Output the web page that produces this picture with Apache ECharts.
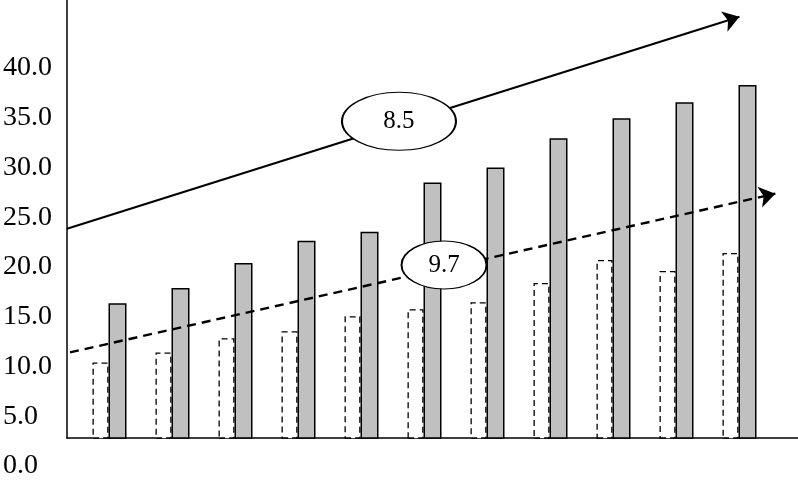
<!DOCTYPE html>
<html>
<head>
<meta charset="utf-8">
<script src="https://cdn.jsdelivr.net/npm/echarts@6/dist/echarts.min.js"></script>
<style>html,body{margin:0;padding:0;background:#fff}#c{width:798px;height:480px}</style>
</head>
<body>
<div id="c"></div>
<script>
// ---- data ----
var categories = ['1','2','3','4','5','6','7','8','9','10','11'];
var seriesA = [10.7, 11.7, 13.1, 13.8, 15.3, 16.0, 16.7, 18.6, 20.9, 19.8, 21.6]; // dashed outline bars
var seriesB = [16.6, 18.1, 20.6, 22.8, 23.7, 28.6, 30.1, 33.0, 35.0, 36.6, 38.3]; // grey bars
var yTicks = [0, 5, 10, 15, 20, 25, 30, 35, 40];
// trend arrows: [xIndexStart, yStart, xIndexEnd, yEnd]
var trendSolid = [-0.675, 24.0, 10.0, 45.1];
var trendDashed = [-0.627, 11.7, 10.57, 27.5];
// trend labels: [xIndex, y, text]
var trendLabelSolid = [4.595, 34.7, '8.5'];
var trendLabelDashed = [5.31, 20.4, '9.7'];

var FONT = "'Liberation Serif','Times New Roman',serif";
var yBase = 3.18, yTop = 46.77;

var chart = echarts.init(document.getElementById('c'), null, {renderer:'canvas'});
var hidden = {show:false};
chart.setOption({
  animation: false,
  backgroundColor: '#fff',
  grid: [
    {left: 78, right: 27, top: 0, bottom: 42},   // bars
    {left: 67, right: 0, top: 68, bottom: 10},   // y labels
    {left: 67, right: 0, top: 0, bottom: 42}     // axis lines + trends
  ],
  xAxis: [
    {gridIndex:0, type:'category', data: categories, axisLine:hidden, axisTick:hidden, axisLabel:hidden, splitLine:hidden},
    {gridIndex:1, type:'value', min:0, max:1, axisLine:hidden, axisTick:hidden, axisLabel:hidden, splitLine:hidden},
    {gridIndex:2, type:'value', min:-0.6746, max:10.929,
      axisLine:{show:true, onZero:false, lineStyle:{color:'#000', width:1.5}},
      axisTick:hidden, axisLabel:hidden, splitLine:hidden}
  ],
  yAxis: [
    {gridIndex:0, type:'value', min:yBase, max:yTop, axisLine:hidden, axisTick:hidden, axisLabel:hidden, splitLine:hidden},
    {gridIndex:1, type:'value', min:yTicks[0], max:yTicks[yTicks.length-1], interval:5,
      axisLine:hidden, axisTick:hidden, splitLine:hidden,
      axisLabel:{show:true, align:'left', margin:67, color:'#000', fontFamily:FONT, fontSize:28,
        formatter:function(v){return v.toFixed(1);}}},
    {gridIndex:2, type:'value', min:yBase, max:yTop,
      axisLine:{show:true, onZero:false, lineStyle:{color:'#000', width:1.5}},
      axisTick:hidden, axisLabel:hidden, splitLine:hidden}
  ],
  series: [
    {type:'bar', xAxisIndex:0, yAxisIndex:0, data: seriesA, barWidth:16, barGap:'0%', clip:true, z:2,
      itemStyle:{color:'#fff', borderColor:'#000', borderWidth:1.3, borderType:[6,4]}},
    {type:'bar', xAxisIndex:0, yAxisIndex:0, data: seriesB, barWidth:18, clip:true, z:2,
      itemStyle:{color:'#c0c0c0', borderColor:'#000', borderWidth:1.5}},
    {type:'lines', coordinateSystem:'cartesian2d', xAxisIndex:2, yAxisIndex:2, z:5,
      symbol:['none','arrow'], symbolSize:16,
      lineStyle:{color:'#000', width:2, type:'solid', opacity:1},
      data:[{coords:[[trendSolid[0],trendSolid[1]],[trendSolid[2],trendSolid[3]]]}]},
    {type:'lines', coordinateSystem:'cartesian2d', xAxisIndex:2, yAxisIndex:2, z:5,
      symbol:['none','arrow'], symbolSize:16,
      lineStyle:{color:'#000', width:2.4, type:[9,6], opacity:1},
      data:[{coords:[[trendDashed[0],trendDashed[1]],[trendDashed[2],trendDashed[3]]]}]},
    {type:'scatter', xAxisIndex:2, yAxisIndex:2, z:10, symbol:'circle', symbolSize:[114,58],
      itemStyle:{color:'#fff', borderColor:'#000', borderWidth:1.5, opacity:1},
      label:{show:true, position:'inside', color:'#000', fontFamily:FONT, fontSize:25,
        formatter:function(p){return p.data[2];}},
      data:[trendLabelSolid]},
    {type:'scatter', xAxisIndex:2, yAxisIndex:2, z:10, symbol:'circle', symbolSize:[85,48],
      itemStyle:{color:'#fff', borderColor:'#000', borderWidth:1.5, opacity:1},
      label:{show:true, position:'inside', color:'#000', fontFamily:FONT, fontSize:25,
        formatter:function(p){return p.data[2];}},
      data:[trendLabelDashed]}
  ]
});
</script>
</body>
</html>
